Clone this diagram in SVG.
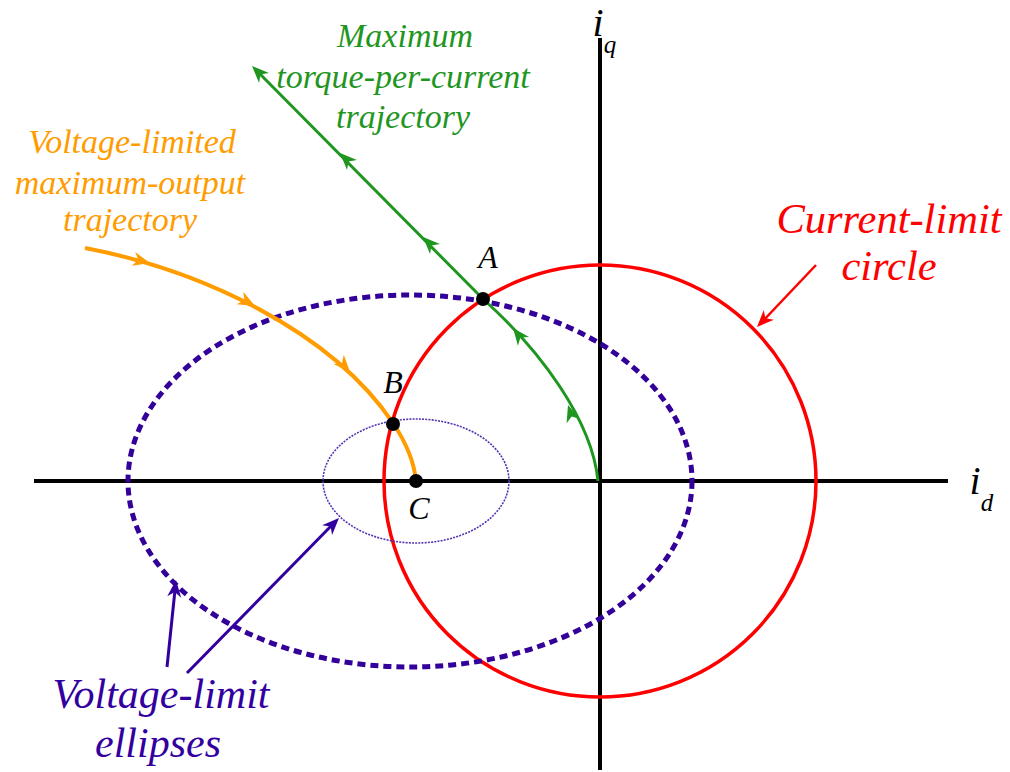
<svg xmlns="http://www.w3.org/2000/svg" xmlns:xlink="http://www.w3.org/1999/xlink" width="1010" height="772" viewBox="0 0 1010 772">
<style>
text{font-family:"Liberation Serif","Times New Roman",serif;font-style:italic;text-anchor:middle}
.green{fill:#1f961f}
.orange{fill:#ff9c00}
.red{fill:#ff0000}
.purple{fill:#3300a0}
.blk{fill:#000}
.axis{stroke:#000;stroke-width:4;fill:none}
</style>
<defs>
<path id="ah" d="M0,0 L-17,-7 L-12,0 L-17,7 Z"/>
</defs>
<rect width="1010" height="772" fill="#fff"/>
<g id="axes">
<line class="axis" x1="34" y1="481" x2="948" y2="481"/>
<line class="axis" x1="600" y1="38" x2="600" y2="770"/>
<text x="598" y="36" class="blk" font-size="40">i</text>
<text x="610" y="53" class="blk" font-size="25">q</text>
<text x="975" y="494" class="blk" font-size="40">i</text>
<text x="987" y="511" class="blk" font-size="25">d</text>
</g>
<g id="current-limit-circle">
<circle cx="600" cy="481" r="216" fill="none" stroke="#ff0000" stroke-width="3.5"/>
</g>
<g id="voltage-ellipse-large">
<ellipse cx="410" cy="481" rx="282" ry="186" fill="none" stroke="#330099" stroke-width="5" stroke-dasharray="8 5"/>
</g>
<g id="voltage-ellipse-small">
<ellipse cx="416" cy="481" rx="93" ry="62" fill="none" stroke="#5533b0" stroke-width="1.6" stroke-dasharray="2 1.2"/>
</g>
<g id="connectors">
<g id="mtpa-trajectory" fill="#1f961f">
<path d="M598,481 C592,420 540,350 483,299 L258,72" fill="none" stroke="#1f961f" stroke-width="3"/>
<use xlink:href="#ah" transform="translate(252,66) rotate(-135)"/>
<use xlink:href="#ah" transform="translate(340,153) rotate(-135)"/>
<use xlink:href="#ah" transform="translate(423,237) rotate(-135)"/>
<use xlink:href="#ah" transform="translate(513,328) rotate(-128)"/>
<use xlink:href="#ah" transform="translate(568,405) rotate(-108)"/>
</g>
<g id="vlmo-trajectory" fill="#ff9c00">
<path d="M85,248 C200,270 330,330 393,423 C403,438 414,460 416,481" fill="none" stroke="#ff9c00" stroke-width="4"/>
<use xlink:href="#ah" transform="translate(150,263) rotate(14)"/>
<use xlink:href="#ah" transform="translate(255,306) rotate(28)"/>
<use xlink:href="#ah" transform="translate(350,372) rotate(48)"/>
</g>
<g id="current-arrow" fill="#ff0000">
<line x1="816" y1="265" x2="762" y2="322" stroke="#ff0000" stroke-width="2.5"/>
<use xlink:href="#ah" transform="translate(757,327) rotate(134)"/>
</g>
<g id="voltage-arrows" fill="#3300a0">
<line x1="167" y1="667" x2="175" y2="590" stroke="#3300a0" stroke-width="3"/>
<use xlink:href="#ah" transform="translate(176,580) rotate(-84)"/>
<line x1="187" y1="673" x2="333" y2="524" stroke="#3300a0" stroke-width="3"/>
<use xlink:href="#ah" transform="translate(339,518) rotate(-45.6)"/>
</g>
</g>
<g id="points">
<circle cx="483" cy="299" r="7" fill="#000"/>
<circle cx="393" cy="424" r="7" fill="#000"/>
<circle cx="416" cy="481" r="7" fill="#000"/>
<text x="488" y="268" class="blk" font-size="32">A</text>
<text x="393" y="393" class="blk" font-size="32">B</text>
<text x="419" y="519" class="blk" font-size="32">C</text>
</g>
<g id="label-mtpa">
<text x="405" y="47" class="green" font-size="34">Maximum</text>
<text x="403" y="88" class="green" font-size="34">torque-per-current</text>
<text x="403" y="128" class="green" font-size="34">trajectory</text>
</g>
<g id="label-vlmo">
<text x="132" y="153" class="orange" font-size="34">Voltage-limited</text>
<text x="130" y="194" class="orange" font-size="34">maximum-output</text>
<text x="130" y="231" class="orange" font-size="34">trajectory</text>
</g>
<g id="label-current">
<text x="889" y="233" class="red" font-size="42.5">Current-limit</text>
<text x="889" y="280" class="red" font-size="42.5">circle</text>
</g>
<g id="label-voltage">
<text x="161" y="708" class="purple" font-size="42">Voltage-limit</text>
<text x="158" y="757" class="purple" font-size="42">ellipses</text>
</g>
</svg>
